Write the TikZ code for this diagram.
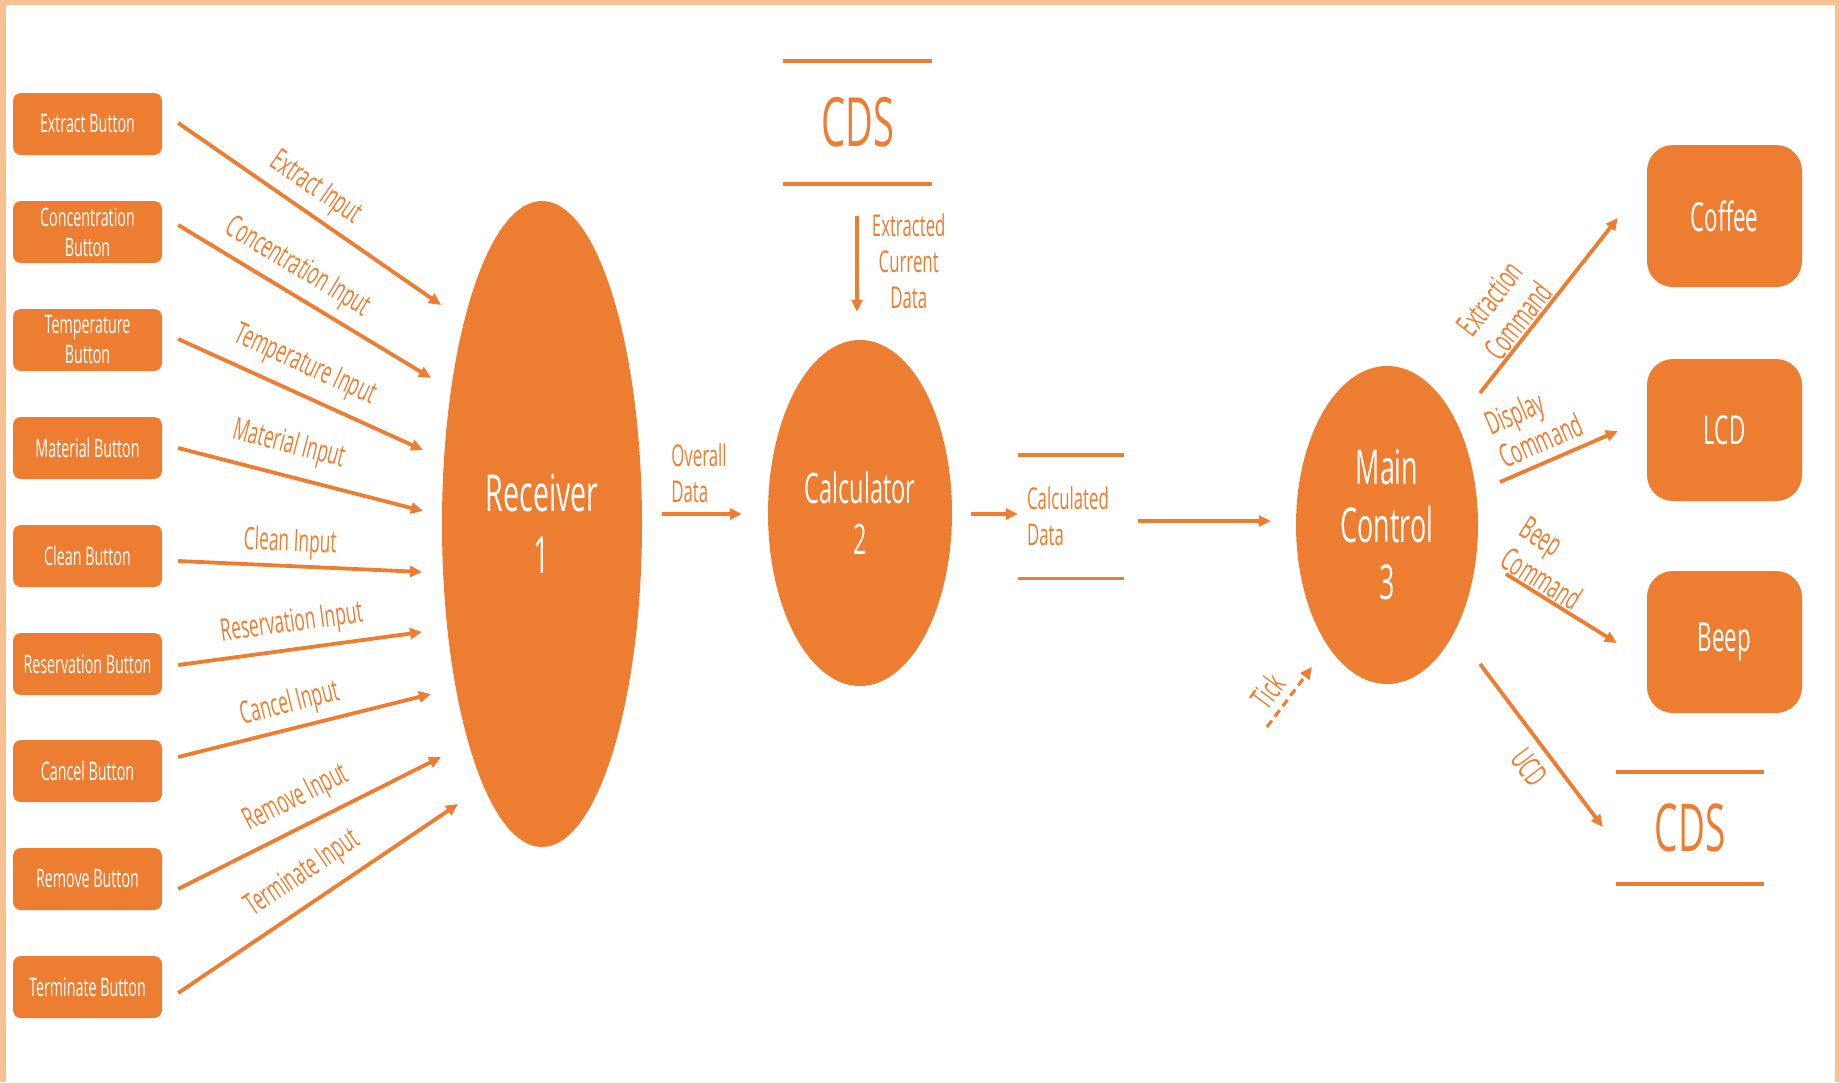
\documentclass[tikz,border=0pt]{standalone}
\usepackage{fontspec}
\usepackage{graphicx}
\usetikzlibrary{arrows.meta,shapes.geometric,calc}
\newfontfamily\sqf{Open Sans}
\definecolor{org}{HTML}{ED7D31}
\definecolor{bord}{HTML}{FAC190}
\newcommand\fsz[2]{\sqf\fontsize{#1}{#2}\selectfont}
\newcommand\sq[1]{\scalebox{0.56}[1]{#1}}
\begin{document}
\begin{tikzpicture}[x=1pt,y=-1pt,
  btn/.style={fill=org, rounded corners=8pt, minimum width=149pt, minimum height=62pt, inner sep=0pt, text=white, align=center, font={\fsz{25.5}{30}}},
  dev/.style={fill=org, rounded corners=26pt, minimum width=155pt, minimum height=142pt, inner sep=0pt, text=white, font={\fsz{40}{48}}},
  proc/.style={ellipse, fill=org, inner sep=0pt, text=white, align=center},
  arr/.style={draw=org, line width=3.8pt, -{Triangle[length=12pt,width=11pt]}},
  storeline/.style={draw=org, line width=3.5pt},
  lab/.style={text=org, font={\fsz{30}{36}}},
  inl/.style={text=org, font={\fsz{31}{36}}},
  cmd/.style={text=org, font={\fsz{32}{36}}},
]
\useasboundingbox (0,0) rectangle (1839,1082);
\fill[white] (0,0) rectangle (1839,1082);
\fill[bord] (0,0) rectangle (1839,5);
\fill[bord] (0,0) rectangle (6,1082);
\fill[bord] (1835,0) rectangle (1839,1082);

% buttons
\node[btn] (b1) at (87.5,124) {\sq{Extract Button}};
\node[btn] (b2) at (87.5,232) {\sq{Concentration}\\\sq{Button}};
\node[btn] (b3) at (87.5,340) {\sq{Temperature}\\\sq{Button}};
\node[btn] (b4) at (87.5,448) {\sq{Material Button}};
\node[btn] (b5) at (87.5,556) {\sq{Clean Button}};
\node[btn] (b6) at (87.5,664) {\sq{Reservation Button}};
\node[btn] (b7) at (87.5,771) {\sq{Cancel Button}};
\node[btn] (b8) at (87.5,879) {\sq{Remove Button}};
\node[btn] (b9) at (87.5,987) {\sq{Terminate Button}};

% processes
\node[proc, minimum width=200pt, minimum height=646pt, font={\fsz{51}{62}}] (rec) at (542,524) {\sq{Receiver}\\\sq{1}};
\node[proc, minimum width=184pt, minimum height=346pt, font={\fsz{42}{51}}] (calc) at (860,513) {\sq{Calculator}\\\sq{2}};
\node[proc, minimum width=182pt, minimum height=318pt, font={\fsz{48}{57.5}}] (main) at (1387,525) {\sq{Main}\\\sq{Control}\\\sq{3}};

% devices
\node[dev] (coffee) at (1724.5,216) {\sq{Coffee}};
\node[dev] (lcd) at (1724.5,430) {\sq{LCD}};
\node[dev] (beep) at (1724.5,642) {\sq{Beep}};

% data stores
\node[text=org, font={\fsz{68}{80}}, minimum width=148.5pt, minimum height=123pt, inner sep=0pt] (cds1) at (857.7,122.5) {\sq{CDS}};
\draw[storeline] (cds1.north west) -- (cds1.north east);
\draw[storeline] (cds1.south west) -- (cds1.south east);
\node[text=org, font={\fsz{66}{78}}, minimum width=148pt, minimum height=112pt, inner sep=0pt] (cds2) at (1690,828) {\sq{CDS}};
\draw[storeline] (cds2.north west) -- (cds2.north east);
\draw[storeline] (cds2.south west) -- (cds2.south east);
\node[lab, minimum width=105.5pt, minimum height=123.5pt, text width=87.5pt, inner xsep=9pt, inner ysep=0pt, align=left] (cst) at (1070.8,516.7) {\sq{Calculated}\\\sq{Data}};
\draw[storeline] (cst.north west) -- (cst.north east);
\draw[storeline] (cst.south west) -- (cst.south east);

% input arrows
\coordinate (e1) at (441,305);
\coordinate (e2) at (431,378);
\coordinate (e3) at (423,450);
\coordinate (e4) at (423,511);
\coordinate (e5) at (422,572);
\coordinate (e6) at (422,632);
\coordinate (e7) at (431,694);
\coordinate (e8) at (441,757);
\coordinate (e9) at (458,804);
\draw[arr] ($(b1.east)+(16,-1)$) -- node[inl, sloped, above, pos=0.47, inner sep=7pt] {\sq{Extract Input}} (e1);
\draw[arr] ($(b2.east)+(16,-7)$) -- node[inl, sloped, above, pos=0.42, inner sep=8pt] {\sq{Concentration Input}} (e2);
\draw[arr] ($(b3.east)+(16,-1)$) -- node[inl, sloped, above, pos=0.47, inner sep=11pt] {\sq{Temperature Input}} (e3);
\draw[arr] ($(b4.east)+(16,0)$) -- node[inl, sloped, above, pos=0.42, inner sep=13pt] {\sq{Material Input}} (e4);
\draw[arr] ($(b5.east)+(16,5)$) -- node[inl, sloped, above, pos=0.455, inner sep=5.5pt] {\sq{Clean Input}} (e5);
\draw[arr] ($(b6.east)+(16,1)$) -- node[inl, sloped, above, pos=0.48, inner sep=8.5pt] {\sq{Reservation Input}} (e6);
\draw[arr] ($(b7.east)+(16,-14)$) -- node[inl, sloped, above, pos=0.464, inner sep=7pt] {\sq{Cancel Input}} (e7);
\draw[arr] ($(b8.east)+(16,10)$) -- node[inl, sloped, above, pos=0.497, inner sep=10.5pt] {\sq{Remove Input}} (e8);
\draw[arr] ($(b9.east)+(16,6)$) -- node[inl, sloped, above, pos=0.504, inner sep=11.5pt] {\sq{Terminate Input}} (e9);

% middle flows
\draw[arr] ($(rec.east)+(20,-10)$) -- node[lab, above, align=left, inner xsep=0pt, inner ysep=9pt, pos=0.5, xshift=-3pt] {\sq{Overall}\\\sq{Data}} ($(calc.west)+(-26,1)$);
\draw[arr] ($(cds1.south)+(-0.7,31.5)$) -- node[lab, right, align=center, inner sep=13pt, pos=0.47] {\sq{Extracted}\\\sq{Current}\\\sq{Data}} ($(calc.north)+(-3,-28)$);
\draw[arr] ($(calc.east)+(19,1)$) -- ($(cst.west)+(0,-2.7)$);
\draw[arr] ($(cst.east)+(14.5,4.3)$) -- ($(main.west)+(-25,-4)$);

% outputs
\draw[arr] ($(main.center)+(93,-132)$) -- node[cmd, sloped, above, align=center, pos=0.36, inner sep=1pt] {\sq{Extraction}\\\sq{Command}} ($(coffee.west)+(-29,2)$);
\draw[arr] ($(main.center)+(113,-43)$) -- node[cmd, sloped, above, align=left, pos=0.42, inner sep=8pt] {\sq{Display}\\\sq{Command}} ($(lcd.west)+(-29,1)$);
\draw[arr] ($(main.center)+(119,49)$) -- node[cmd, sloped, above, align=left, pos=0.25, inner sep=1pt] {\sq{Beep}\\\sq{Command}} ($(beep.west)+(-30,1)$);
\draw[arr] ($(main.center)+(93,139)$) -- node[cmd, sloped, below, pos=0.55, inner sep=9pt] {\sq{UCD}} ($(cds2.west)+(-13,-1)$);
\coordinate (tk) at (1267,727);
\draw[arr, line width=3pt, dash pattern=on 8pt off 5pt] (tk) -- node[cmd, sloped, above, pos=0.39, inner sep=7pt] {\sq{Tick}} ($(main.center)+(-75,142)$);
\end{tikzpicture}
\end{document}
